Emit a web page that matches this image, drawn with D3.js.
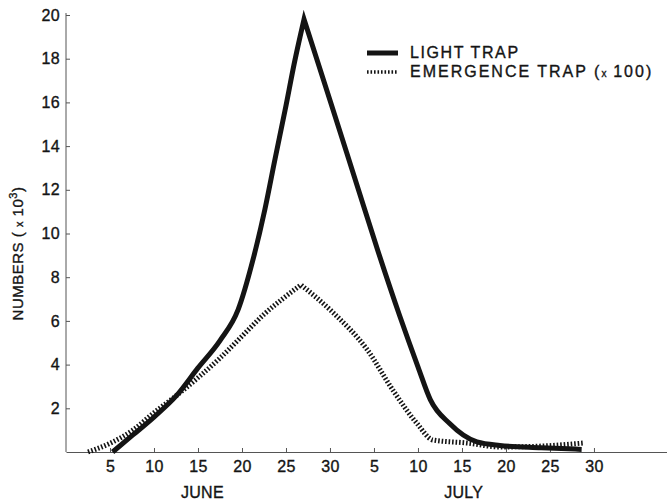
<!DOCTYPE html>
<html>
<head>
<meta charset="utf-8">
<script src="https://cdn.jsdelivr.net/npm/d3@7"></script>
<style>
  body { margin: 0; background: #fff; }
  svg { font-family: "Liberation Sans", Arial, Helvetica, sans-serif; }
  svg text { stroke: #141414; stroke-width: 0.35px; }
</style>
</head>
<body>
<div id="chart"></div>
<script>
// dias contados desde el 1 de junio (julio = 30 + dia)
const lightDays   = [5.3, 7.6, 10, 12.6, 15, 17.5, 19.55, 21.25, 22.6, 23.75, 24.9, 26.0, 27.05, 30.0, 33.0, 35.45, 37.95, 40.0, 41.4, 43.6, 46.7, 49.3, 54, 58.6];
const lightValues = [0, 0.78, 1.6, 2.6, 3.85, 5.1, 6.5, 8.8, 11.1, 13.4, 15.65, 17.9, 19.8, 16.1, 12.3, 9.2, 6.2, 3.9, 2.4, 1.3, 0.46, 0.3, 0.2, 0.12];

const emergDays   = [2.5, 5, 7.6, 10, 12.6, 15, 17.5, 20, 22.5, 24.9, 26.7, 30.3, 34.2, 37.2, 39.9, 41.7, 45.6, 49.3, 54, 58.75];
const emergValues = [0, 0.4, 1.0, 1.8, 2.6, 3.4, 4.3, 5.3, 6.3, 7.1, 7.65, 6.4, 4.7, 2.8, 1.3, 0.55, 0.41, 0.23, 0.27, 0.41];

const xTickDays   = [5, 10, 15, 20, 25, 30, 35, 40, 45, 50, 55, 60];
const xTickLabels = ["5", "10", "15", "20", "25", "30", "5", "10", "15", "20", "25", "30"];
const yTicks      = [2, 4, 6, 8, 10, 12, 14, 16, 18, 20];
const months      = ["JUNE", "JULY"];
const monthCenters = [15.5, 45.2];

const width = 667, height = 501;
const ink = "#141414";

const svg = d3.select("#chart").append("svg")
    .attr("width", width)
    .attr("height", height);

const x = d3.scaleLinear().domain([0, 68.3]).range([66, 667]);
const y = d3.scaleLinear().domain([0, 20]).range([452, 15]);

// eje Y
const yAxis = svg.append("g")
    .attr("transform", `translate(${x(0)},0)`)
    .call(d3.axisLeft(y)
        .tickValues(yTicks)
        .tickSizeInner(-4)
        .tickSizeOuter(0)
        .tickPadding(6));
yAxis.select(".domain").attr("stroke", "#555").attr("d", `M0,${y(20) - 2}V${y(0)}`);
yAxis.selectAll(".tick line").attr("stroke", "#555");
yAxis.selectAll("text")
    .attr("fill", ink)
    .style("font-size", "16px")
    .style("letter-spacing", "0.3px");

// eje X
const xAxis = svg.append("g")
    .attr("transform", `translate(0,${y(0)})`)
    .call(d3.axisBottom(x)
        .tickValues(xTickDays)
        .tickFormat((d, i) => xTickLabels[i])
        .tickSizeInner(-4)
        .tickSizeOuter(0)
        .tickPadding(9));
xAxis.select(".domain").attr("stroke", "#555");
xAxis.selectAll(".tick line").attr("stroke", "#555");
xAxis.selectAll("text")
    .attr("fill", ink)
    .style("font-size", "16px")
    .style("letter-spacing", "0.3px");

svg.selectAll(".month")
    .data(months)
    .enter()
    .append("text")
    .attr("class", "month")
    .attr("x", (d, i) => x(monthCenters[i]))
    .attr("y", 498)
    .attr("text-anchor", "middle")
    .attr("fill", ink)
    .style("font-size", "16px")
    .style("letter-spacing", "0.3px")
    .text(d => d);

// titulo eje Y
const yTitle = svg.append("text")
    .attr("transform", `translate(23,${(y(20) + y(0)) / 2 + 20}) rotate(-90)`)
    .attr("text-anchor", "middle")
    .attr("fill", ink)
    .style("font-size", "15px")
    .style("letter-spacing", "0.5px");
yTitle.append("tspan").text("NUMBERS ( ");
yTitle.append("tspan").style("font-size", "11px").text("x");
yTitle.append("tspan").text(" 10");
yTitle.append("tspan").attr("dy", -6).style("font-size", "11px").text("3");
yTitle.append("tspan").attr("dy", 6).text(")");

// series: curva suave a cada lado del pico, pico en punta
const line = d3.line()
    .x(d => x(d[0]))
    .y(d => y(d[1]))
    .curve(d3.curveMonotoneX);

function peakedPath(data) {
    const peak = d3.maxIndex(data, d => d[1]);
    const left = line(data.slice(0, peak + 1));
    const right = line(data.slice(peak));
    return left + right.replace(/^M/, "L");
}

const lightData = lightDays.map((d, i) => [d, lightValues[i]]);
const emergData = emergDays.map((d, i) => [d, emergValues[i]]);

svg.append("path")
    .attr("fill", "none")
    .attr("stroke", ink)
    .attr("stroke-width", 5)
    .attr("stroke-dasharray", "1.6,1.9")
    .attr("stroke-linejoin", "round")
    .attr("d", peakedPath(emergData));

svg.append("path")
    .attr("fill", "none")
    .attr("stroke", ink)
    .attr("stroke-width", 5)
    .attr("stroke-linejoin", "miter")
    .attr("d", peakedPath(lightData));

// leyenda
const legend = svg.append("g").attr("transform", "translate(367,53)");
legend.append("line")
    .attr("x1", 0).attr("x2", 31).attr("y1", 0).attr("y2", 0)
    .attr("stroke", ink).attr("stroke-width", 5);
legend.append("text")
    .attr("x", 43).attr("y", 5)
    .attr("fill", ink)
    .style("font-size", "16px")
    .style("letter-spacing", "1.6px")
    .text("LIGHT TRAP");
legend.append("line")
    .attr("x1", 0).attr("x2", 31).attr("y1", 19).attr("y2", 19)
    .attr("stroke", ink).attr("stroke-width", 3.5)
    .attr("stroke-dasharray", "1.6,1.9");
const legText = legend.append("text")
    .attr("x", 43).attr("y", 24)
    .attr("fill", ink)
    .style("font-size", "16px")
    .style("letter-spacing", "2px");
legText.append("tspan").text("EMERGENCE  TRAP (");
legText.append("tspan").style("font-size", "10px").text("x ");
legText.append("tspan").text("100)");
</script>
</body>
</html>
